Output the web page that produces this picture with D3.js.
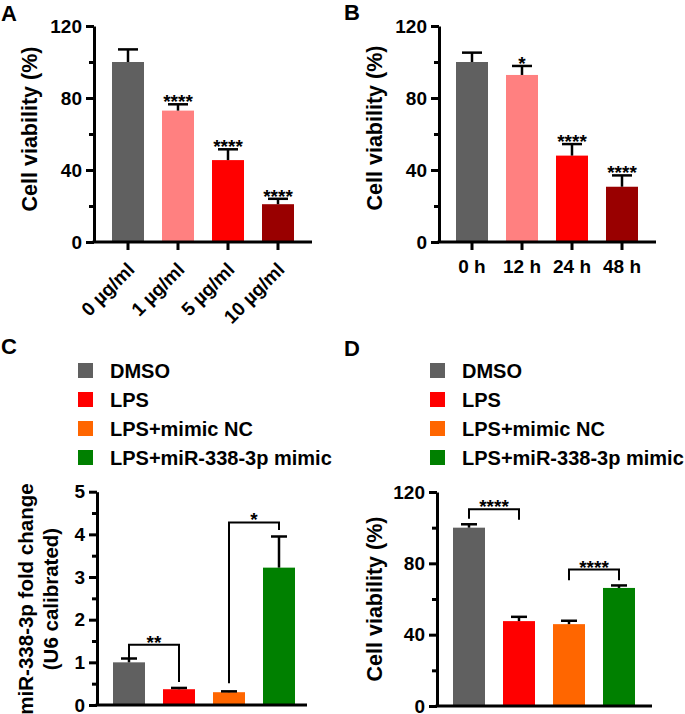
<!DOCTYPE html>
<html><head><meta charset="utf-8">
<script src="https://cdn.jsdelivr.net/npm/d3@7"></script>
<style>
body{margin:0;background:#fff}
svg text{font-family:"Liberation Sans",Arial,Helvetica,sans-serif;font-weight:bold;fill:#000}
</style>
</head><body>
<svg id="chart" width="685" height="714"></svg>
<script>
// ---------- data ----------
const doseCategories = ["0 µg/ml", "1 µg/ml", "5 µg/ml", "10 µg/ml"];
const doseViability = [100, 73, 45.5, 21];
const doseSD = [7, 3.5, 6, 3];
const doseStars = ["", "****", "****", "****"];

const timeCategories = ["0 h", "12 h", "24 h", "48 h"];
const timeViability = [100, 92.8, 48, 30.7];
const timeSD = [5.2, 5, 6.4, 6.3];
const timeStars = ["", "*", "****", "****"];

const groups = ["DMSO", "LPS", "LPS+mimic NC", "LPS+miR-338-3p mimic"];
const mirFoldChange = [1.0, 0.37, 0.30, 3.22];
const mirSD = [0.09, 0.03, 0.02, 0.73];
const mirComparisons = [
  {a: 0, b: 1, label: "**", top: 1.41, endA: 1.10, endB: 0.54},
  {a: 2, b: 3, label: "*", top: 4.28, endA: 0.51, endB: 4.10}
];

const groupViability = [100, 47.6, 45.9, 66.2];
const groupSD = [1.9, 2.4, 1.9, 1.4];
const viabComparisons = [
  {a: 0, b: 1, label: "****", top: 110.3, endA: 105, endB: 104.5},
  {a: 2, b: 3, label: "****", top: 76.5, endA: 70.5, endB: 70.5}
];

const viabTicks = [0, 40, 80, 120];
const viabMinor = [20, 60, 100];
const foldTicks = [0, 1, 2, 3, 4, 5];
const foldMinor = [0.5, 1.5, 2.5, 3.5, 4.5];

// ---------- styles ----------
const doseColors = ["#606060", "#ff8080", "#ff0000", "#990000"];
const groupColors = ["#606060", "#ff0000", "#ff6600", "#008000"];

const svg = d3.select("#chart");

function drawPanel(cfg) {
  const g = svg.append("g");
  const x = d3.scaleBand().domain(cfg.cats).range(cfg.band).paddingInner(0.36).paddingOuter(0.18);
  const y = d3.scaleLinear().domain(cfg.domain).range([cfg.yBot, cfg.yTop]);
  const bw = x.bandwidth();
  const cx = c => x(c) + bw / 2;

  // bars
  g.selectAll("rect.bar").data(cfg.cats).join("rect")
    .attr("x", c => x(c)).attr("y", (c, i) => y(cfg.values[i]))
    .attr("width", bw).attr("height", (c, i) => cfg.yBot - y(cfg.values[i]))
    .attr("fill", (c, i) => cfg.colors[i]);

  // error bars
  const eb = g.selectAll("g.err").data(cfg.cats).join("g");
  eb.append("line")
    .attr("x1", c => cx(c)).attr("x2", c => cx(c))
    .attr("y1", (c, i) => y(cfg.values[i])).attr("y2", (c, i) => y(cfg.values[i] + cfg.sd[i]))
    .attr("stroke", "#000").attr("stroke-width", 2.5);
  eb.append("line")
    .attr("x1", c => cx(c) - cfg.cap / 2).attr("x2", c => cx(c) + cfg.cap / 2)
    .attr("y1", (c, i) => y(cfg.values[i] + cfg.sd[i])).attr("y2", (c, i) => y(cfg.values[i] + cfg.sd[i]))
    .attr("stroke", "#000").attr("stroke-width", 2.5);

  // stars over bars
  if (cfg.stars) {
    g.selectAll("text.star").data(cfg.cats).join("text")
      .attr("x", c => cx(c)).attr("y", (c, i) => y(cfg.values[i] + cfg.sd[i]) + 4)
      .attr("text-anchor", "middle").attr("font-size", 19)
      .text((c, i) => cfg.stars[i]);
  }

  // comparison brackets
  if (cfg.comps) {
    cfg.comps.forEach(cp => {
      const xa = cx(cfg.cats[cp.a]), xb = cx(cfg.cats[cp.b]);
      g.append("path")
        .attr("d", `M${xa},${y(cp.endA)}V${y(cp.top)}H${xb}V${y(cp.endB)}`)
        .attr("fill", "none").attr("stroke", "#000").attr("stroke-width", 2);
      g.append("text").attr("x", (xa + xb) / 2).attr("y", y(cp.top) + 4)
        .attr("text-anchor", "middle").attr("font-size", 19).text(cp.label);
    });
  }

  // y axis
  const ya = g.append("g").attr("transform", `translate(${cfg.x0},0)`)
    .call(d3.axisLeft(y).tickValues(cfg.major).tickSize(8).tickSizeOuter(0).tickPadding(4).tickFormat(d3.format("d")));
  ya.attr("font-size", null).attr("font-family", null);
  ya.select(".domain").attr("stroke-width", 3);
  ya.selectAll(".tick line").attr("stroke-width", 3);
  ya.selectAll(".tick text").attr("font-size", 19).attr("fill", "#000");
  const ym = g.append("g").attr("transform", `translate(${cfg.x0},0)`)
    .call(d3.axisLeft(y).tickValues(cfg.minor).tickSize(5).tickFormat(""));
  ym.select(".domain").remove();
  ym.selectAll(".tick line").attr("stroke-width", 3);

  // x axis line
  g.append("line").attr("x1", cfg.x0 - 1.5).attr("x2", cfg.xEnd)
    .attr("y1", cfg.yBot).attr("y2", cfg.yBot).attr("stroke", "#000").attr("stroke-width", 3);

  if (cfg.xTicks) {
    const xa = g.append("g").attr("transform", `translate(0,${cfg.yBot})`)
      .call(d3.axisBottom(x).tickSize(8).tickSizeOuter(0).tickFormat(""));
    xa.select(".domain").remove();
    xa.selectAll(".tick line").attr("stroke-width", 3);
    if (cfg.rotate) {
      g.selectAll("text.xl").data(cfg.cats).join("text")
        .attr("transform", c => `translate(${cx(c) + 3},${cfg.yBot + 24}) rotate(-45)`)
        .attr("text-anchor", "end").attr("dy", "0.35em").attr("font-size", 19)
        .text(c => c);
    } else {
      g.selectAll("text.xl").data(cfg.cats).join("text")
        .attr("x", c => cx(c)).attr("y", cfg.yBot + 31)
        .attr("text-anchor", "middle").attr("font-size", 19)
        .text(c => c);
    }
  }

  // y label
  cfg.ylabel.forEach((t, i) => {
    g.append("text")
      .attr("transform", `translate(${cfg.ylabX[i]},${cfg.ylabY}) rotate(-90)`)
      .attr("text-anchor", "middle").attr("font-size", cfg.ylabSize).text(t);
  });

  // panel letter
  g.append("text").attr("x", cfg.letterPos[0]).attr("y", cfg.letterPos[1])
    .attr("font-size", 22).text(cfg.letter);

  // legend
  if (cfg.legend) {
    const lg = g.selectAll("g.leg").data(cfg.cats).join("g")
      .attr("transform", (c, i) => `translate(${cfg.legend[0]},${cfg.legend[1] + i * 29})`);
    lg.append("rect").attr("x", 0).attr("y", -7.5).attr("width", 15).attr("height", 15)
      .attr("fill", (c, i) => cfg.colors[i]);
    lg.append("text").attr("x", 32).attr("dy", "0.35em").attr("font-size", 20).text(c => c);
  }
}

drawPanel({
  cats: doseCategories, values: doseViability, sd: doseSD, stars: doseStars, colors: doseColors,
  domain: [0, 120], major: viabTicks, minor: viabMinor,
  x0: 94, xEnd: 312, yTop: 26, yBot: 242, band: [103, 303], cap: 20,
  xTicks: true, rotate: true,
  ylabel: ["Cell viability (%)"], ylabX: [37], ylabY: 129, ylabSize: 21.5,
  letter: "A", letterPos: [1, 21]
});

drawPanel({
  cats: timeCategories, values: timeViability, sd: timeSD, stars: timeStars, colors: doseColors,
  domain: [0, 120], major: viabTicks, minor: viabMinor,
  x0: 439, xEnd: 656, yTop: 26, yBot: 242, band: [447, 647], cap: 20,
  xTicks: true, rotate: false,
  ylabel: ["Cell viability (%)"], ylabX: [382], ylabY: 128, ylabSize: 21.5,
  letter: "B", letterPos: [344, 20]
});

drawPanel({
  cats: groups, values: mirFoldChange, sd: mirSD, colors: groupColors, comps: mirComparisons,
  domain: [0, 5], major: foldTicks, minor: foldMinor,
  x0: 97, xEnd: 307, yTop: 491.7, yBot: 705, band: [104, 304], cap: 16,
  xTicks: false,
  ylabel: ["miR-338-3p fold change", "(U6 calibrated)"], ylabX: [33, 58], ylabY: 599, ylabSize: 20.5,
  letter: "C", letterPos: [1, 354], legend: [78, 370.5]
});

drawPanel({
  cats: groups, values: groupViability, sd: groupSD, colors: groupColors, comps: viabComparisons,
  domain: [0, 120], major: viabTicks, minor: viabMinor,
  x0: 437, xEnd: 652, yTop: 492, yBot: 706, band: [444, 644], cap: 16,
  xTicks: false,
  ylabel: ["Cell viability (%)"], ylabX: [382], ylabY: 599, ylabSize: 21.5,
  letter: "D", letterPos: [344, 356], legend: [430, 370.5]
});
</script>
</body></html>
